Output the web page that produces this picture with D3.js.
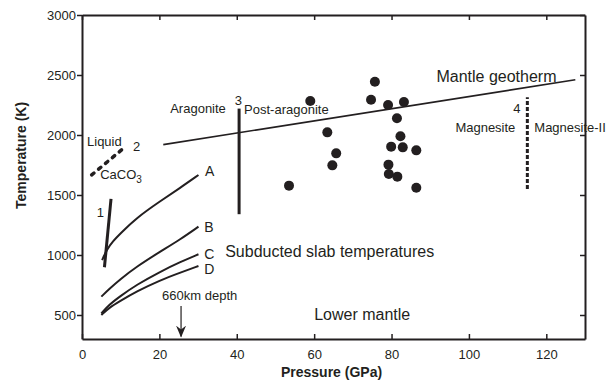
<!DOCTYPE html>
<html>
<head>
<meta charset="utf-8">
<script src="https://cdn.jsdelivr.net/npm/d3@7/dist/d3.min.js"></script>
<style>
  html, body { margin: 0; padding: 0; background: #fff; }
  svg { display: block; font-family: "Liberation Sans", Arial, sans-serif; }
  .tick text { fill: #231f20; font-size: 13px; }
</style>
</head>
<body>
<svg id="chart" width="611" height="383"></svg>
<script>
// ---- data ----
const xTicks = [0, 20, 40, 60, 80, 100, 120];
const yTicks = [500, 1000, 1500, 2000, 2500, 3000];

// subducted slab temperature curves (Pressure GPa, Temperature K)
const curveA = [[5.2, 958], [6.4, 1045], [8.0, 1115], [9.8, 1175], [14.1, 1310], [20.2, 1448], [25.3, 1558], [30.1, 1667]];
const curveB = [[5.0, 653], [7.0, 715], [9.8, 795], [14.1, 903], [20.2, 1028], [25.3, 1128], [30.1, 1236]];
const curveC = [[5.0, 513], [7.0, 585], [9.8, 655], [14.1, 752], [20.2, 861], [25.3, 940], [30.1, 1006]];
const curveD = [[5.0, 500], [7.0, 560], [9.8, 615], [14.1, 696], [20.2, 790], [25.3, 852], [30.1, 908]];

const line1 = [[7.5, 1467], [5.8, 898]];            // boundary 1
const line2 = [[2.5, 1667], [10.9, 1894]];          // CaCO3 melting, 2
const line3 = [[40.6, 1340], [40.6, 2220]];         // aragonite / post-aragonite
const line4 = [[115.1, 1550], [115.1, 2314]];       // magnesite / magnesite-II
const geotherm = [[21, 1920], [127.5, 2460]];
const depthArrow = [[25.6, 575], [25.6, 320]];

const pointsP = [75.7, 59.0, 74.7, 79.1, 83.2, 81.4, 63.4, 82.3, 65.7, 79.9, 82.9, 86.4, 64.7, 79.2, 79.3, 81.5, 53.5, 86.4];
const pointsT = [2444, 2283, 2294, 2250, 2275, 2139, 2022, 1989, 1847, 1903, 1897, 1872, 1747, 1753, 1675, 1653, 1578, 1561];

// annotation labels: [text, P, T, size, anchor]
const labels = [
  ["Liquid", 1.3, 1908, 13, "start"],
  ["2", 13.2, 1869, 13, "start"],
  ["1", 3.8, 1319, 13, "start"],
  ["A", 31.8, 1658, 14, "start"],
  ["B", 31.6, 1192, 14, "start"],
  ["C", 31.6, 967, 14, "start"],
  ["D", 31.6, 842, 14, "start"],
  ["660km depth", 20.7, 625, 13, "start"],
  ["Subducted slab temperatures", 37, 983, 16, "start"],
  ["Lower mantle", 60, 458, 16, "start"],
  ["Aragonite", 22.8, 2181, 13, "start"],
  ["3", 40.4, 2250, 13, "middle"],
  ["Post-aragonite", 41.9, 2175, 13, "start"],
  ["Mantle geotherm", 91.6, 2442, 16, "start"],
  ["4", 113.3, 2183, 13, "end"],
  ["Magnesite", 96.5, 2025, 13, "start"],
  ["Magnesite-II", 116.9, 2025, 13, "start"]
];
const caco3Label = ["CaCO", "3", 4.7, 1633];

// ---- layout ----
const margin = {top: 15, right: 26, bottom: 44, left: 82};
const W = 611, H = 383;
const iw = W - margin.left - margin.right, ih = H - margin.top - margin.bottom;
const ink = "#231f20";

const svg = d3.select("#chart");
const g = svg.append("g").attr("transform", `translate(${margin.left},${margin.top})`);

const x = d3.scaleLinear().domain([0, 130]).range([0, iw]);
const y = d3.scaleLinear().domain([300, 3000]).range([ih, 0]);
const fmt = d3.format("d");

// axes
const styleAxis = sel => {
  sel.select(".domain").attr("stroke", ink).attr("stroke-width", 2);
  sel.selectAll(".tick line").attr("stroke", ink).attr("stroke-width", 1.5);
};
g.append("g").attr("transform", `translate(0,${ih})`)
  .call(d3.axisBottom(x).tickValues(xTicks).tickFormat(fmt).tickSizeInner(-5).tickSizeOuter(0).tickPadding(11))
  .call(styleAxis).call(s => s.selectAll("text").attr("font-family", "Liberation Sans"));
g.append("g")
  .call(d3.axisTop(x).tickValues(xTicks).tickSizeInner(-5).tickSizeOuter(0).tickFormat(""))
  .call(styleAxis);
g.append("g")
  .call(d3.axisLeft(y).tickValues(yTicks).tickFormat(fmt).tickSizeInner(5).tickSizeOuter(0).tickPadding(1))
  .call(styleAxis).call(s => s.selectAll("text").attr("font-family", "Liberation Sans"));
g.append("g").attr("transform", `translate(${iw},0)`)
  .call(d3.axisRight(y).tickValues(yTicks).tickSizeInner(-5).tickSizeOuter(0).tickFormat(""))
  .call(styleAxis);

// axis titles
svg.append("text").attr("x", margin.left + x(64.5)).attr("y", 377)
  .attr("text-anchor", "middle").attr("font-weight", "bold").attr("font-size", 14).attr("fill", ink)
  .text("Pressure (GPa)");
svg.append("text").attr("transform", `translate(26,${margin.top + y(1830)}) rotate(-90)`)
  .attr("text-anchor", "middle").attr("font-weight", "bold").attr("font-size", 14).attr("fill", ink)
  .text("Temperature (K)");

const lineGen = d3.line().x(d => x(d[0])).y(d => y(d[1]));
const curveGen = d3.line().x(d => x(d[0])).y(d => y(d[1])).curve(d3.curveBasis);

// slab curves
[curveA, curveB, curveC, curveD].forEach(c => {
  g.append("path").attr("d", curveGen(c)).attr("fill", "none").attr("stroke", ink).attr("stroke-width", 2);
});

// phase boundaries
g.append("path").attr("d", lineGen(line1)).attr("stroke", ink).attr("stroke-width", 3).attr("fill", "none");
g.append("path").attr("d", lineGen(line2)).attr("stroke", ink).attr("stroke-width", 3.5)
  .attr("stroke-dasharray", "3,6").attr("stroke-linecap", "round").attr("fill", "none");
g.append("path").attr("d", lineGen(line3)).attr("stroke", ink).attr("stroke-width", 3).attr("fill", "none");
g.append("path").attr("d", lineGen(line4)).attr("stroke", ink).attr("stroke-width", 3)
  .attr("stroke-dasharray", "4,2").attr("fill", "none");
g.append("path").attr("d", lineGen(geotherm)).attr("stroke", ink).attr("stroke-width", 1.6).attr("fill", "none");

// depth arrow (arrowhead marker pointing along the path direction)
svg.append("defs").append("marker").attr("id", "arrow")
  .attr("viewBox", "0 0 12 10").attr("refX", 11).attr("refY", 5)
  .attr("markerWidth", 12).attr("markerHeight", 10).attr("markerUnits", "userSpaceOnUse")
  .attr("orient", "auto")
  .append("path").attr("d", "M0,0 L12,5 L0,10 L4,5 Z").attr("fill", ink);
g.append("path").attr("d", lineGen(depthArrow)).attr("stroke", ink).attr("stroke-width", 1.2)
  .attr("fill", "none").attr("marker-end", "url(#arrow)");

// data points
g.selectAll("circle.pt").data(pointsP.map((p, i) => [p, pointsT[i]])).enter()
  .append("circle").attr("class", "pt")
  .attr("cx", d => x(d[0])).attr("cy", d => y(d[1])).attr("r", 5).attr("fill", ink);

// labels
g.selectAll("text.lbl").data(labels).enter().append("text").attr("class", "lbl")
  .attr("x", d => x(d[1])).attr("y", d => y(d[2]))
  .attr("font-size", d => d[3]).attr("text-anchor", d => d[4]).attr("fill", ink)
  .text(d => d[0]);

const ct = g.append("text").attr("x", x(caco3Label[2])).attr("y", y(caco3Label[3]))
  .attr("font-size", 13).attr("fill", ink);
ct.append("tspan").text(caco3Label[0]);
ct.append("tspan").attr("dy", 4).attr("font-size", 10).text(caco3Label[1]);
</script>
</body>
</html>
